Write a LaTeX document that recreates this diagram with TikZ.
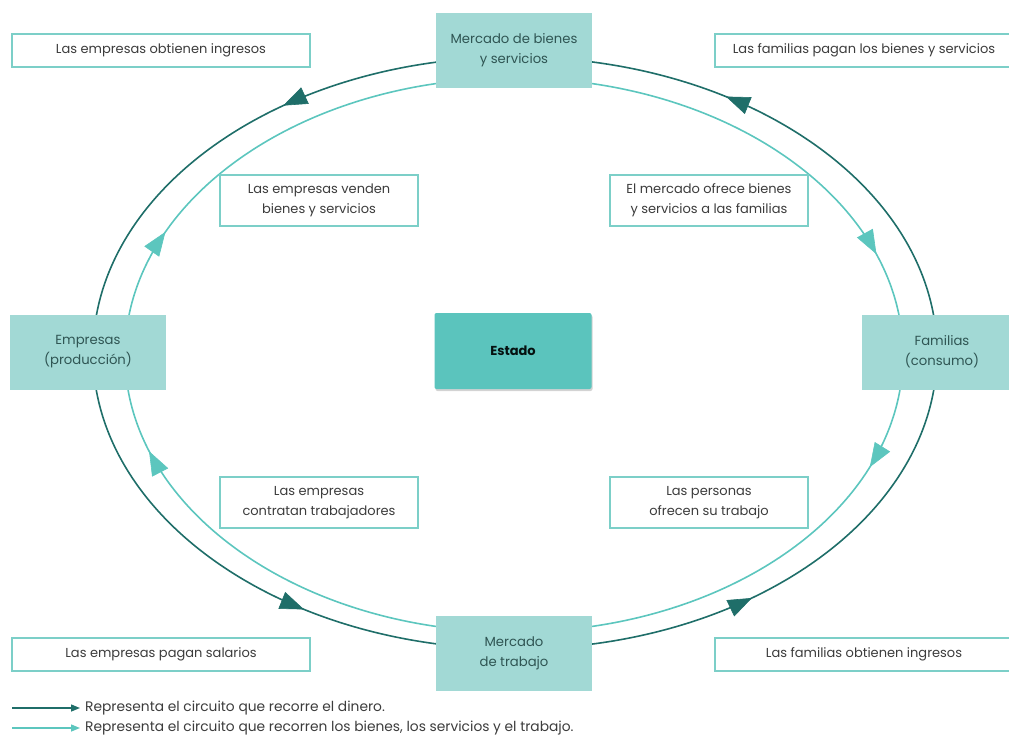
\documentclass[tikz,border=0pt]{standalone}
\usepackage{fontspec}
\setmainfont{Poppins}
\usetikzlibrary{arrows.meta,decorations.markings,shadows,calc}
\definecolor{darkline}{HTML}{1F6E69}
\definecolor{lightline}{HTML}{5CC6BE}
\definecolor{boxfill}{HTML}{A2D9D5}
\definecolor{estadofill}{HTML}{5BC4BD}
\definecolor{boxtext}{HTML}{2F5553}
\definecolor{notetext}{HTML}{3C3C3C}
\definecolor{noteborder}{HTML}{7CCFC8}
\tikzset{
  mainbox/.style={fill=boxfill,draw=none,minimum width=156pt,minimum height=75pt,align=center,text=boxtext,font=\fontsize{13.2}{20}\selectfont},
  notebox/.style={fill=white,draw=noteborder,line width=1.2pt,align=center,text=notetext,font=\fontsize{13}{20}\selectfont,inner sep=0pt},
  money/.style={draw=darkline,line width=1.6pt},
  goods/.style={draw=lightline,line width=1.6pt},
  tipat/.style 2 args={postaction={decorate},decoration={markings,mark=at position #1 with {\arrow[#2,line width=0.6pt]{Triangle[length=24pt,width=18pt]}}}},
  legtext/.style={anchor=west,text=notetext,font=\fontsize{13.8}{16}\selectfont,inner sep=0pt},
}
\begin{document}
\begin{tikzpicture}[x=1pt,y=-1pt]
\useasboundingbox (0,0) rectangle (1009,739);
\coordinate (oc) at (515,353);
\coordinate (ic) at (514,355);
% money flow: Familias -> Mercado bienes -> Empresas -> Mercado trabajo -> Familias
\draw[money,tipat={0.62}{darkline}] ($(oc)+(422,0)$) arc[start angle=0,end angle=-90,x radius=422,y radius=296];
\draw[money,tipat={0.42}{darkline}] ($(oc)+(0,-296)$) arc[start angle=-90,end angle=-180,x radius=422,y radius=296];
\draw[money,tipat={0.62}{darkline}] ($(oc)+(-422,0)$) arc[start angle=-180,end angle=-270,x radius=422,y radius=296];
\draw[money,tipat={0.43}{darkline}] ($(oc)+(0,296)$) arc[start angle=-270,end angle=-360,x radius=422,y radius=296];
% goods flow: Empresas -> Mercado bienes -> Familias -> Mercado trabajo -> Empresas
\draw[goods,tipat={0.25}{lightline}] ($(ic)+(-389,0)$) arc[start angle=180,end angle=270,x radius=389,y radius=277];
\draw[goods,tipat={0.80}{lightline}] ($(ic)+(0,-277)$) arc[start angle=270,end angle=360,x radius=389,y radius=277];
\draw[goods,tipat={0.225}{lightline}] ($(ic)+(389,0)$) arc[start angle=0,end angle=90,x radius=389,y radius=277];
\draw[goods,tipat={0.81}{lightline}] ($(ic)+(0,277)$) arc[start angle=90,end angle=180,x radius=389,y radius=277];

\node[mainbox] (bienes) at (514,50) {Mercado de bienes\\y servicios};
\node[mainbox] (trabajo) at (514,653) {Mercado\\de trabajo};
\node[mainbox] (empresas) at (88,352) {Empresas\\(producción)};
\node[mainbox,minimum width=160pt] (familias) at (942,352) {Familias\\(consumo)};
\node[fill=estadofill,rounded corners=2pt,minimum width=157pt,minimum height=76pt,text=black!85!darkline,font=\fontsize{13}{16}\selectfont\bfseries,drop shadow={opacity=0.35,shadow xshift=1pt,shadow yshift=-2pt}] (estado) at (513,351) {Estado};

\node[notebox,minimum width=298pt,minimum height=33pt] (n1) at (161,50.5) {Las empresas obtienen ingresos};
\node[notebox,minimum width=298pt,minimum height=33pt] (n2) at (864,50.5) {Las familias pagan los bienes y servicios};
\node[notebox,minimum width=298pt,minimum height=33pt] (n3) at (161,654.5) {Las empresas pagan salarios};
\node[notebox,minimum width=298pt,minimum height=33pt] (n4) at (864,654.5) {Las familias obtienen ingresos};
\node[notebox,minimum width=198pt,minimum height=51pt] (n5) at (319,200.5) {Las empresas venden\\bienes y servicios};
\node[notebox,minimum width=198pt,minimum height=51pt] (n6) at (709,200.5) {El mercado ofrece bienes\\y servicios a las familias};
\node[notebox,minimum width=198pt,minimum height=51pt] (n7) at (319,502.5) {Las empresas\\contratan trabajadores};
\node[notebox,minimum width=198pt,minimum height=51pt] (n8) at (709,502.5) {Las personas\\ofrecen su trabajo};

% legend
\coordinate (l1a) at (12,708);
\coordinate (l1b) at (80,708);
\coordinate (l2a) at (12,728);
\coordinate (l2b) at (80,728);
\draw[darkline,line width=1.4pt,-{Triangle[length=9pt,width=7pt]}] (l1a) -- (l1b);
\draw[lightline,line width=1.4pt,-{Triangle[length=9pt,width=7pt]}] (l2a) -- (l2b);
\node[legtext] (t1) at (85,708) {Representa el circuito que recorre el dinero.};
\node[legtext] (t2) at (85,728) {Representa el circuito que recorren los bienes, los servicios y el trabajo.};
\end{tikzpicture}
\end{document}
